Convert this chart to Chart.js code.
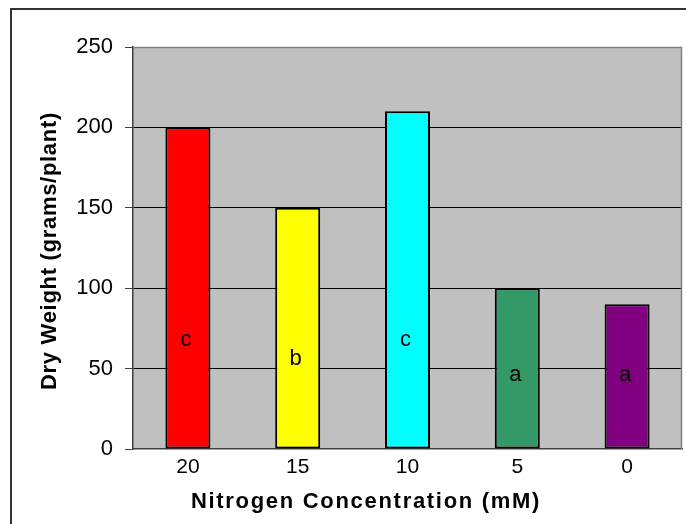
<!DOCTYPE html>
<html>
<head>
<meta charset="utf-8">
<script src="https://cdn.jsdelivr.net/npm/chart.js@4/dist/chart.umd.min.js"></script>
<style>
html,body{margin:0;padding:0;background:#fff;}
#wrap{width:686px;height:524px;position:relative;}
</style>
</head>
<body>
<div id="wrap"><canvas id="c" width="686" height="524"></canvas></div>
<script>
const categories = ["20", "15", "10", "5", "0"];
const dryWeight = [200, 150, 210, 100, 90];
const barColors = ["#FF0000", "#FFFF00", "#00FFFF", "#339966", "#800080"];
const groupLetters = ["c", "b", "c", "a", "a"];
const letterAnchor = [64, 52, 64, 42, 42];
const yTicks = [0, 50, 100, 150, 200, 250];
const xTitle = "Nitrogen Concentration (mM)";
const yTitle = "Dry Weight (grams/plant)";

const FONT = "'Liberation Sans', Arial, sans-serif";

const decor = {
  id: 'decor',
  beforeDraw(chart) {
    const ctx = chart.ctx, a = chart.chartArea;
    ctx.save();
    ctx.fillStyle = '#FFFFFF';
    ctx.fillRect(0, 0, chart.width, chart.height);
    ctx.strokeStyle = '#333333';
    ctx.lineWidth = 2;
    ctx.strokeRect(11, 9, chart.width + 20, chart.height + 20);
    ctx.fillStyle = '#C0C0C0';
    ctx.fillRect(a.left, a.top, a.right - a.left, a.bottom - a.top);
    ctx.restore();
  },
  afterDatasetsDraw(chart) {
    const ctx = chart.ctx, a = chart.chartArea;
    const xs = chart.scales.x, ys = chart.scales.y;
    ctx.save();
    ctx.strokeStyle = '#808080';
    ctx.lineWidth = 1.5;
    ctx.beginPath();
    ctx.moveTo(a.left, a.top + 0.5);
    ctx.lineTo(a.right - 0.5, a.top + 0.5);
    ctx.lineTo(a.right - 0.5, a.bottom);
    ctx.stroke();
    ctx.fillStyle = '#000';
    ctx.font = '22px ' + FONT;
    ctx.textAlign = 'center';
    ctx.textBaseline = 'alphabetic';
    groupLetters.forEach((l, i) => {
      ctx.fillText(l, xs.getPixelForValue(i) - 2, ys.getPixelForValue(letterAnchor[i]));
    });
    ctx.font = 'bold 22px ' + FONT;
    if ('letterSpacing' in ctx) ctx.letterSpacing = '1.7px';
    ctx.textBaseline = 'middle';
    ctx.fillText(xTitle, 366, 502);
    ctx.translate(50, 251);
    ctx.rotate(-Math.PI / 2);
    if ('letterSpacing' in ctx) ctx.letterSpacing = '0.7px';
    ctx.fillText(yTitle, 0, 0);
    ctx.restore();
  }
};

new Chart(document.getElementById('c'), {
  type: 'bar',
  data: {
    labels: categories,
    datasets: [{
      data: dryWeight,
      backgroundColor: barColors,
      borderColor: '#000000',
      borderWidth: 2,
      borderSkipped: false,
      categoryPercentage: 1,
      barPercentage: 0.41
    }]
  },
  options: {
    responsive: false,
    animation: false,
    devicePixelRatio: 1,
    layout: { padding: { left: 0, top: 47, right: 4, bottom: 0 } },
    plugins: { legend: { display: false }, tooltip: { enabled: false } },
    scales: {
      x: {
        grid: { display: false, drawTicks: false },
        border: { display: true, color: '#404040', width: 1.5 },
        ticks: { color: '#000', font: { family: FONT, size: 21 }, padding: 6 },
        afterFit(s) { s.height = 75; }
      },
      y: {
        min: 0, max: 250,
        afterBuildTicks(s) { s.ticks = yTicks.map(v => ({ value: v })); },
        grid: {
          color: (c) => (c.tick && (c.tick.value === 250 || c.tick.value === 0)) ? 'rgba(0,0,0,0)' : '#000000',
          tickColor: '#404040',
          tickLength: 8,
          lineWidth: 1
        },
        border: { display: true, color: '#404040', width: 1.5 },
        ticks: { color: '#000', font: { family: FONT, size: 22 }, padding: 12 },
        afterFit(s) { s.width = 133; }
      }
    }
  },
  plugins: [decor]
});
</script>
</body>
</html>
